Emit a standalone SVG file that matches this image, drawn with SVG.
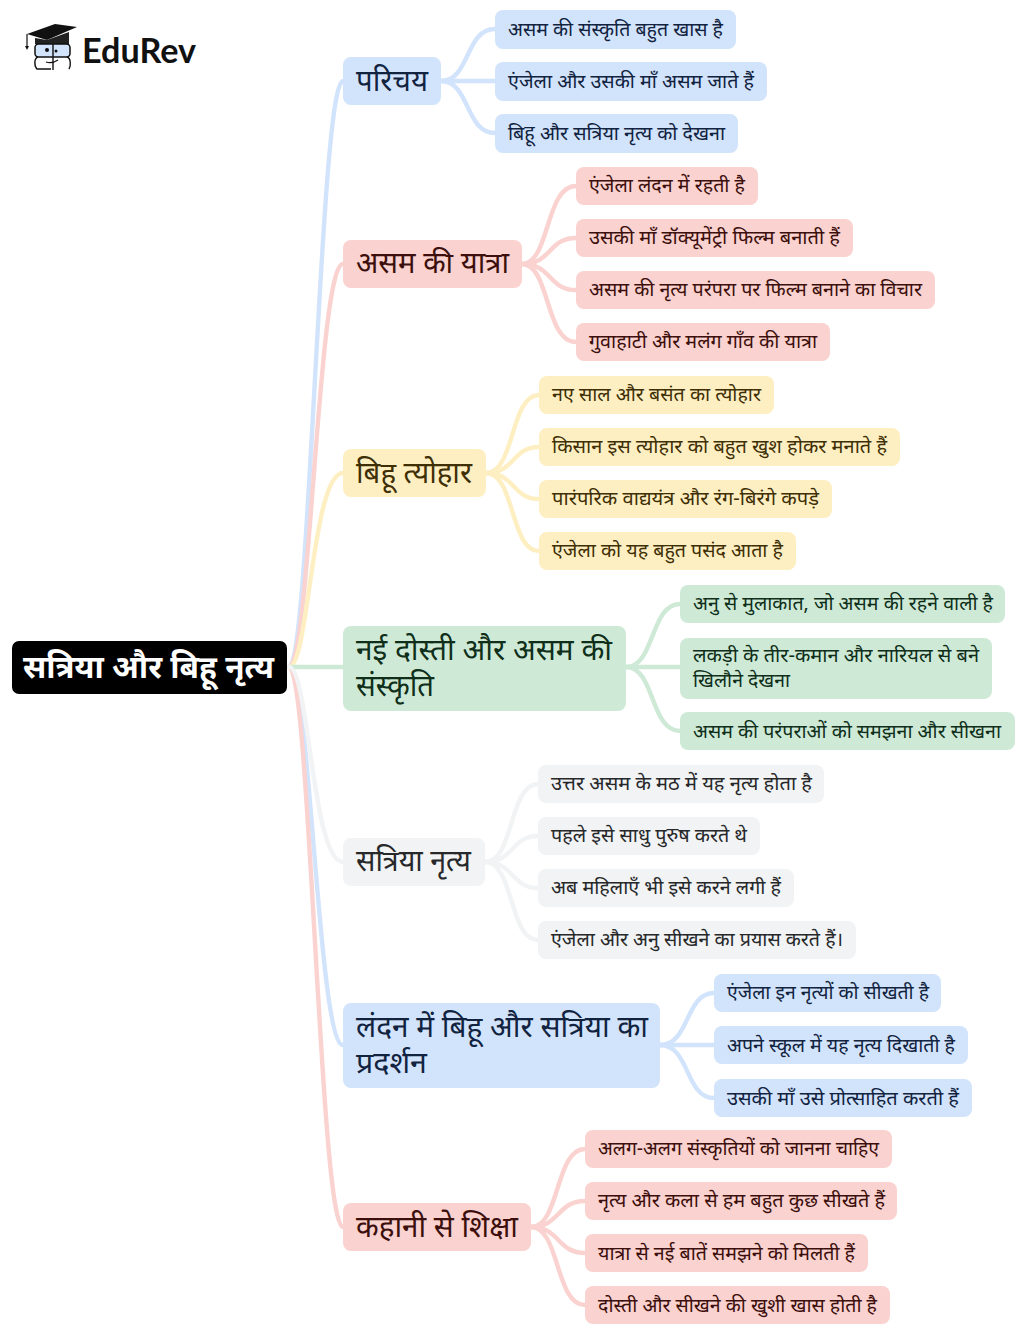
<svg xmlns="http://www.w3.org/2000/svg" width="1024" height="1335" viewBox="0 0 1024 1335">
<style>
text{font-family:"Noto Sans","Noto Sans Devanagari","Liberation Sans",sans-serif}
.l{font-size:19.6px}.b{font-size:29.6px}
.c{fill:none;stroke-width:4.4;stroke-linecap:round}
.blue{fill:#d2e3fc}.red{fill:#fad2cf}.yel{fill:#feefc3}.grn{fill:#ceead6}.gry{fill:#f1f3f4}
.tblue{fill:#11233f}.tred{fill:#3c0f0c}.tyel{fill:#3f2f05}.tgrn{fill:#0f2f1a}.tgry{fill:#27282a}
.sblue{stroke:#d2e3fc}.sred{stroke:#fad2cf}.syel{stroke:#feefc3}.sgrn{stroke:#ceead6}.sgry{stroke:#f1f3f4}
</style>
<rect width="1024" height="1335" fill="#fff"/>
<g id="connectors">
<g class="c sblue"><path d="M289 667C310 667 320 81 343 81"/><path d="M289 667C310 667 318 1045 343 1045"/><path d="M441 81C470 81 465 29 495 29"/><path d="M441 81H495"/><path d="M441 81C470 81 465 133 495 133"/><path d="M660 1045C690 1045 685 993 714 993"/><path d="M660 1045H714"/><path d="M660 1045C690 1045 685 1098 714 1098"/></g>
<g class="c sred"><path d="M289 667C310 667 318 264 343 264"/><path d="M289 667C310 667 320 1227 343 1227"/><path d="M522 264C550 264 545 186 576 186"/><path d="M522 264C552 264 548 238 576 238"/><path d="M522 264C552 264 548 290 576 290"/><path d="M522 264C550 264 545 342 576 342"/><path d="M531 1227C560 1227 555 1149 585 1149"/><path d="M531 1227C560 1227 557 1201 585 1201"/><path d="M531 1227C560 1227 557 1253 585 1253"/><path d="M531 1227C560 1227 555 1305 585 1305"/></g>
<g class="c syel"><path d="M289 667C309 667 312 473 343 473"/><path d="M486 473C515 473 510 395 539 395"/><path d="M486 473C515 473 512 447 539 447"/><path d="M486 473C515 473 512 499 539 499"/><path d="M486 473C515 473 510 551 539 551"/></g>
<g class="c sgrn"><path d="M289 667H343"/><path d="M626 667C655 667 650 604 680 604"/><path d="M626 667H680"/><path d="M626 667C655 667 650 731 680 731"/></g>
<g class="c sgry"><path d="M289 667C309 667 312 862 343 862"/><path d="M485 862C514 862 509 784 538 784"/><path d="M485 862C514 862 511 836 538 836"/><path d="M485 862C514 862 511 888 538 888"/><path d="M485 862C514 862 509 940 538 940"/></g>
</g>
<g id="root"><rect x="12" y="641" width="275" height="53" rx="7" fill="#000"/><text x="23" y="678" font-size="32" font-weight="700" fill="#fff" textLength="251" lengthAdjust="spacingAndGlyphs">सत्रिया और बिहू नृत्य</text></g>
<g id="logo">
<path d="M27 34L55 24L77 27L47 40Z" fill="#111"/><path d="M27 34V47" stroke="#111" fill="none" stroke-width="1.2"/><path d="M25 46L27 50L29 46Z" fill="#111"/>
<path d="M35 38L47 40L69 32V44H35Z" fill="#222"/>
<rect x="35" y="44" width="35" height="13" rx="3.5" fill="#d2e3fc" stroke="#111" stroke-width="1.5"/>
<path d="M38 57C34 58 34 66 37 69H51M67 57C71 58 71 66 69 69M53 44V70" fill="none" stroke="#111" stroke-width="1.4"/>
<path d="M46 62Q52 64 58 60" fill="none" stroke="#111" stroke-width="1.1"/>
<circle cx="47" cy="50" r="2" fill="#111"/><circle cx="56" cy="51" r="1.5" fill="#111"/>
<text x="82" y="63" font-size="34" font-weight="700" fill="#111" textLength="114" lengthAdjust="spacingAndGlyphs" style="font-family:Lato,'Liberation Sans',sans-serif">EduRev</text>
</g>
<g id="n1"><rect class="blue" x="343" y="57" width="98" height="48" rx="8"/><text class="b tblue" x="356" y="91" textLength="72" lengthAdjust="spacingAndGlyphs">परिचय</text></g>
<g id="n1a"><rect class="blue" x="495" y="10" width="241" height="39" rx="8"/><text class="l tblue" x="508" y="36" textLength="215" lengthAdjust="spacingAndGlyphs">असम की संस्कृति बहुत खास है</text></g>
<g id="n1b"><rect class="blue" x="495" y="62" width="272" height="39" rx="8"/><text class="l tblue" x="508" y="88" textLength="246" lengthAdjust="spacingAndGlyphs">एंजेला और उसकी माँ असम जाते हैं</text></g>
<g id="n1c"><rect class="blue" x="495" y="114" width="243" height="39" rx="8"/><text class="l tblue" x="508" y="140" textLength="217" lengthAdjust="spacingAndGlyphs">बिहू और सत्रिया नृत्य को देखना</text></g>
<g id="n2"><rect class="red" x="343" y="240" width="179" height="48" rx="8"/><text class="b tred" x="356" y="273" textLength="153" lengthAdjust="spacingAndGlyphs">असम की यात्रा</text></g>
<g id="n2a"><rect class="red" x="576" y="167" width="182" height="38" rx="8"/><text class="l tred" x="589" y="192" textLength="156" lengthAdjust="spacingAndGlyphs">एंजेला लंदन में रहती है</text></g>
<g id="n2b"><rect class="red" x="576" y="219" width="277" height="38" rx="8"/><text class="l tred" x="589" y="244" textLength="251" lengthAdjust="spacingAndGlyphs">उसकी माँ डॉक्यूमेंट्री फिल्म बनाती हैं</text></g>
<g id="n2c"><rect class="red" x="576" y="271" width="359" height="38" rx="8"/><text class="l tred" x="589" y="296" textLength="333" lengthAdjust="spacingAndGlyphs">असम की नृत्य परंपरा पर फिल्म बनाने का विचार</text></g>
<g id="n2d"><rect class="red" x="576" y="323" width="254" height="38" rx="8"/><text class="l tred" x="589" y="348" textLength="228" lengthAdjust="spacingAndGlyphs">गुवाहाटी और मलंग गाँव की यात्रा</text></g>
<g id="n3"><rect class="yel" x="343" y="449" width="143" height="48" rx="8"/><text class="b tyel" x="356" y="483" textLength="116" lengthAdjust="spacingAndGlyphs">बिहू त्योहार</text></g>
<g id="n3a"><rect class="yel" x="539" y="376" width="235" height="38" rx="8"/><text class="l tyel" x="552" y="401" textLength="209" lengthAdjust="spacingAndGlyphs">नए साल और बसंत का त्योहार</text></g>
<g id="n3b"><rect class="yel" x="539" y="428" width="361" height="38" rx="8"/><text class="l tyel" x="552" y="453" textLength="335" lengthAdjust="spacingAndGlyphs">किसान इस त्योहार को बहुत खुश होकर मनाते हैं</text></g>
<g id="n3c"><rect class="yel" x="539" y="480" width="293" height="38" rx="8"/><text class="l tyel" x="552" y="505" textLength="267" lengthAdjust="spacingAndGlyphs">पारंपरिक वाद्ययंत्र और रंग-बिरंगे कपड़े</text></g>
<g id="n3d"><rect class="yel" x="539" y="532" width="257" height="38" rx="8"/><text class="l tyel" x="552" y="557" textLength="231" lengthAdjust="spacingAndGlyphs">एंजेला को यह बहुत पसंद आता है</text></g>
<g id="n4"><rect class="grn" x="343" y="626" width="283" height="85" rx="8"/><text class="b tgrn" x="356" y="660" textLength="256" lengthAdjust="spacingAndGlyphs">नई दोस्ती और असम की</text><text class="b tgrn" x="356" y="696" textLength="78" lengthAdjust="spacingAndGlyphs">संस्कृति</text></g>
<g id="n4a"><rect class="grn" x="680" y="585" width="325" height="38" rx="8"/><text class="l tgrn" x="693" y="610" textLength="300" lengthAdjust="spacingAndGlyphs">अनु से मुलाकात, जो असम की रहने वाली है</text></g>
<g id="n4b"><rect class="grn" x="680" y="638" width="312" height="61" rx="8"/><text class="l tgrn" x="693" y="662" textLength="286" lengthAdjust="spacingAndGlyphs">लकड़ी के तीर-कमान और नारियल से बने</text><text class="l tgrn" x="693" y="687" textLength="97" lengthAdjust="spacingAndGlyphs">खिलौने देखना</text></g>
<g id="n4c"><rect class="grn" x="680" y="712" width="335" height="38" rx="8"/><text class="l tgrn" x="693" y="738" textLength="308" lengthAdjust="spacingAndGlyphs">असम की परंपराओं को समझना और सीखना</text></g>
<g id="n5"><rect class="gry" x="343" y="838" width="142" height="48" rx="8"/><text class="b tgry" x="356" y="871" textLength="115" lengthAdjust="spacingAndGlyphs">सत्रिया नृत्य</text></g>
<g id="n5a"><rect class="gry" x="538" y="765" width="286" height="38" rx="8"/><text class="l tgry" x="551" y="790" textLength="261" lengthAdjust="spacingAndGlyphs">उत्तर असम के मठ में यह नृत्य होता है</text></g>
<g id="n5b"><rect class="gry" x="538" y="817" width="222" height="38" rx="8"/><text class="l tgry" x="551" y="842" textLength="196" lengthAdjust="spacingAndGlyphs">पहले इसे साधु पुरुष करते थे</text></g>
<g id="n5c"><rect class="gry" x="538" y="869" width="256" height="38" rx="8"/><text class="l tgry" x="551" y="894" textLength="230" lengthAdjust="spacingAndGlyphs">अब महिलाएँ भी इसे करने लगी हैं</text></g>
<g id="n5d"><rect class="gry" x="538" y="921" width="318" height="38" rx="8"/><text class="l tgry" x="551" y="946" textLength="292" lengthAdjust="spacingAndGlyphs">एंजेला और अनु सीखने का प्रयास करते हैं।</text></g>
<g id="n6"><rect class="blue" x="343" y="1003" width="317" height="85" rx="8"/><text class="b tblue" x="356" y="1037" textLength="292" lengthAdjust="spacingAndGlyphs">लंदन में बिहू और सत्रिया का</text><text class="b tblue" x="356" y="1073" textLength="71" lengthAdjust="spacingAndGlyphs">प्रदर्शन</text></g>
<g id="n6a"><rect class="blue" x="714" y="974" width="227" height="38" rx="8"/><text class="l tblue" x="727" y="999" textLength="202" lengthAdjust="spacingAndGlyphs">एंजेला इन नृत्यों को सीखती है</text></g>
<g id="n6b"><rect class="blue" x="714" y="1026" width="254" height="38" rx="8"/><text class="l tblue" x="727" y="1052" textLength="228" lengthAdjust="spacingAndGlyphs">अपने स्कूल में यह नृत्य दिखाती है</text></g>
<g id="n6c"><rect class="blue" x="714" y="1079" width="258" height="38" rx="8"/><text class="l tblue" x="727" y="1105" textLength="232" lengthAdjust="spacingAndGlyphs">उसकी माँ उसे प्रोत्साहित करती हैं</text></g>
<g id="n7"><rect class="red" x="343" y="1203" width="188" height="48" rx="8"/><text class="b tred" x="356" y="1237" textLength="162" lengthAdjust="spacingAndGlyphs">कहानी से शिक्षा</text></g>
<g id="n7a"><rect class="red" x="585" y="1130" width="307" height="38" rx="8"/><text class="l tred" x="598" y="1155" textLength="281" lengthAdjust="spacingAndGlyphs">अलग-अलग संस्कृतियों को जानना चाहिए</text></g>
<g id="n7b"><rect class="red" x="585" y="1182" width="312" height="38" rx="8"/><text class="l tred" x="598" y="1207" textLength="287" lengthAdjust="spacingAndGlyphs">नृत्य और कला से हम बहुत कुछ सीखते हैं</text></g>
<g id="n7c"><rect class="red" x="585" y="1234" width="283" height="38" rx="8"/><text class="l tred" x="598" y="1260" textLength="257" lengthAdjust="spacingAndGlyphs">यात्रा से नई बातें समझने को मिलती हैं</text></g>
<g id="n7d"><rect class="red" x="585" y="1286" width="305" height="38" rx="8"/><text class="l tred" x="598" y="1312" textLength="279" lengthAdjust="spacingAndGlyphs">दोस्ती और सीखने की खुशी खास होती है</text></g>
</svg>
